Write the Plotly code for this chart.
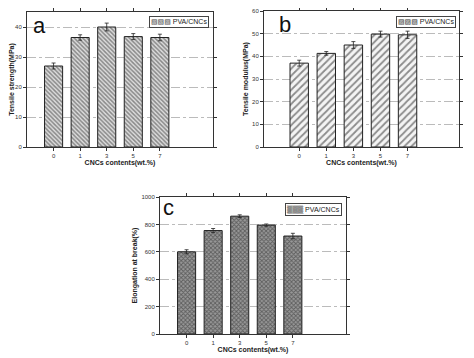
import plotly.graph_objects as go

categories = ["0", "1", "3", "5", "7"]
strength = [27.0, 36.5, 40.0, 36.8, 36.5]
strength_err = [1.0, 0.9, 1.3, 1.0, 1.1]
modulus = [37.0, 41.3, 45.0, 49.8, 49.5]
modulus_err = [1.3, 0.8, 1.5, 1.3, 1.6]
elongation = [600, 755, 860, 795, 715]
elongation_err = [15, 15, 10, 8, 20]
series_name = "PVA/CNCs"

FONT = "Liberation Sans, Arial, sans-serif"

# page body has an 8px default margin; figure is placed at (8, 8)
OFF = 8
W, H = 474 - OFF, 358 - OFF

def dx(px):
    return (px - OFF) / W

def dy(py):
    return 1 - (py - OFF) / H

fig = go.Figure()

def bar(y, err, xa, ya, shape, size, sol, fg, bg):
    return go.Bar(
        x=categories, y=y, xaxis=xa, yaxis=ya, name=series_name, showlegend=False,
        width=0.68,
        marker=dict(color=bg, line=dict(color="#222", width=1),
                    pattern=dict(shape=shape, size=size, solidity=sol,
                                 fgcolor=fg, bgcolor=bg, fillmode="overlay")),
        error_y=dict(type="data", array=err, color="#222", thickness=0.8, width=2),
    )

fig.add_trace(bar(strength, strength_err, "x", "y", "\\", 3, 0.5, "#333", "#dddddd"))
fig.add_trace(bar(modulus, modulus_err, "x2", "y2", "/", 5, 0.35, "#222", "#f4f4f4"))
fig.add_trace(bar(elongation, elongation_err, "x3", "y3", "x", 3, 0.5, "#222", "#999999"))

tickfont = dict(family=FONT, size=6, color="#333")
titlefont = dict(family=FONT, size=7, color="#222", weight="bold")

def xax(x0, x1, anchor, rng):
    return dict(domain=[dx(x0), dx(x1)], anchor=anchor, type="category", range=rng,
                showline=True, linecolor="#333", linewidth=1, mirror="ticks",
                ticks="outside", ticklen=3, tickcolor="#333", tickfont=tickfont,
                showgrid=False, zeroline=False, automargin=False,
                title=dict(text="CNCs contents(wt.%)", font=titlefont, standoff=1))

def yax(y0, y1, anchor, rng, dtick, title):
    return dict(domain=[dy(y1), dy(y0)], anchor=anchor, range=rng, dtick=dtick,
                showline=True, linecolor="#333", linewidth=1, mirror="ticks",
                ticks="outside", ticklen=3, tickcolor="#333", tickfont=tickfont,
                showgrid=True, gridcolor="#bbbbbb", griddash="dashdot", gridwidth=0.6,
                zeroline=False, automargin=False,
                title=dict(text=title, font=titlefont, standoff=2))

fig.update_layout(
    width=W, height=H, margin=dict(l=0, r=0, t=0, b=0, autoexpand=False),
    paper_bgcolor="white", plot_bgcolor="white",
    bargap=0.3, showlegend=False,
    xaxis=xax(27, 213, "y", [-1, 6]),
    yaxis=yax(12, 147, "x", [0, 45], 10, "Tensile strength(MPa)"),
    xaxis2=xax(264, 459, "y2", [-1.3, 5.9]),
    yaxis2=yax(11, 147, "x2", [0, 60], 10, "Tensile modulus(MPa)"),
    xaxis3=xax(160, 346, "y3", [-1, 6]),
    yaxis3=yax(197, 334, "x3", [0, 1000], 200, "Elongation at break(%)"),
)

# compact legend boxes
for glyph, color, xr, yt in [("▧▧▧", "#444", 209, 16), ("▨▨▨", "#333", 456, 16),
                             ("▒▒▒", "#333", 342, 203)]:
    fig.add_annotation(
        text=f'<span style="font-family:DejaVu Sans;color:{color}">{glyph}</span> {series_name}',
        x=dx(xr), y=dy(yt), xref="paper", yref="paper", xanchor="right", yanchor="top",
        showarrow=False, bordercolor="#444", borderwidth=1, borderpad=1, bgcolor="white",
        font=dict(family=FONT, size=22 // 3 + 0, color="#222"))

# panel letters (paper-referenced)
for txt, px, py in [("a", 30.5, 11), ("b", 276.5, 9.5), ("c", 160.5, 193)]:
    fig.add_annotation(text=txt, x=dx(px), y=dy(py), xref="paper", yref="paper",
                       xanchor="left", yanchor="top", showarrow=False,
                       font=dict(family=FONT, size=22, color="#111"))

fig.write_html("out.html")
